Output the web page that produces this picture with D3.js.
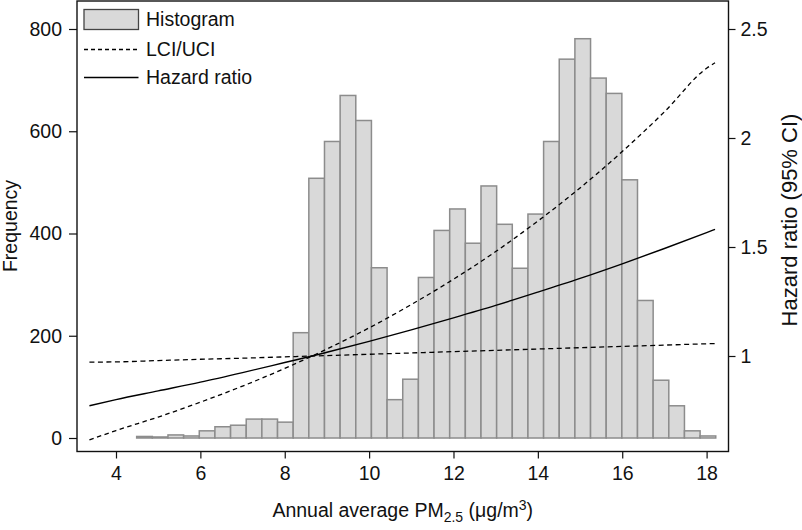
<!DOCTYPE html>
<html>
<head>
<meta charset="utf-8">
<script src="https://cdn.jsdelivr.net/npm/d3@7"></script>
<style>
  html, body { margin: 0; padding: 0; background: #fff; }
  svg { display: block; }
  text { font-family: "Liberation Sans", Arial, Helvetica, sans-serif; fill: #111; }
</style>
</head>
<body>
<svg id="chart" width="802" height="530"></svg>
<script>
// ---- Data ----
const binStart = 4.49;
const binWidth = 0.371;
const frequencies = [3, 2, 6, 4, 14, 22, 25, 37, 37, 31,
  206, 508, 580, 670, 621, 333, 75, 115, 314, 406,
  448, 381, 493, 418, 332, 438, 580, 741, 781, 704,
  674, 505, 269, 113, 63, 14, 4];

const curveX = [3.37, 4, 5, 6, 7, 8, 8.65, 9, 10, 11, 12, 13, 14, 15, 16, 17, 18, 18.2];
const hazardRatio = [0.772, 0.80, 0.84, 0.88, 0.924, 0.97, 1.0, 1.017, 1.067, 1.12, 1.175, 1.232, 1.293, 1.356, 1.423, 1.493, 1.566, 1.581];
const boundSteep = [0.615, 0.658, 0.720, 0.788, 0.862, 0.943, 1.0, 1.032, 1.129, 1.236, 1.352, 1.479, 1.619, 1.771, 1.938, 2.120, 2.320, 2.345];
const boundFlat = [0.972, 0.973, 0.979, 0.985, 0.990, 0.996, 1.0, 1.002, 1.008, 1.014, 1.020, 1.026, 1.032, 1.038, 1.044, 1.050, 1.056, 1.057];

const xTicks = [4, 6, 8, 10, 12, 14, 16, 18];
const freqTicks = [0, 200, 400, 600, 800];
const hrTicks = [1, 1.5, 2, 2.5];

const legendLabels = ["Histogram", "LCI/UCI", "Hazard ratio"];
const xTitle = "Annual average PM";
const leftTitle = "Frequency";
const rightTitle = "Hazard ratio (95% CI)";

// ---- Layout ----
const frame = { left: 77, right: 728.5, top: 1, bottom: 451.5 };
const svg = d3.select("#chart");
const FONT = 19.5;

const x = d3.scaleLinear().domain([4, 18]).range([116, 706.6]);
const yF = d3.scaleLinear().domain([0, 800]).range([438, 29]);
const yH = d3.scaleLinear().domain([1, 2.5]).range([356, 29]);

// ---- Histogram bars ----
const bins = frequencies.map((f, i) => ({ x0: binStart + i * binWidth, x1: binStart + (i + 1) * binWidth, f }));
svg.append("g").selectAll("rect").data(bins).join("rect")
  .attr("x", d => x(d.x0))
  .attr("width", d => x(d.x1) - x(d.x0))
  .attr("y", d => yF(d.f))
  .attr("height", d => yF(0) - yF(d.f))
  .attr("fill", "#d9d9d9")
  .attr("stroke", "#8c8c8c")
  .attr("stroke-width", 1.5);

// ---- Curves ----
const line = vals => d3.line()
  .x((d, i) => x(curveX[i]))
  .y(d => yH(d))
  .curve(d3.curveMonotoneX)(vals);

svg.append("path").attr("d", line(boundFlat))
  .attr("fill", "none").attr("stroke", "#000").attr("stroke-width", 1.3)
  .attr("stroke-dasharray", "5,3.5");
svg.append("path").attr("d", line(boundSteep))
  .attr("fill", "none").attr("stroke", "#000").attr("stroke-width", 1.3)
  .attr("stroke-dasharray", "4.5,3.5");
svg.append("path").attr("d", line(hazardRatio))
  .attr("fill", "none").attr("stroke", "#000").attr("stroke-width", 1.4);

// ---- Frame ----
svg.append("rect")
  .attr("x", frame.left).attr("y", frame.top)
  .attr("width", frame.right - frame.left).attr("height", frame.bottom - frame.top)
  .attr("fill", "none").attr("stroke", "#111").attr("stroke-width", 1.4);

// ---- Axes ----
function styleAxis(g) {
  g.select(".domain").remove();
  g.selectAll(".tick line").attr("stroke", "#111").attr("stroke-width", 1.2);
  g.selectAll(".tick text").style("font-size", FONT + "px").attr("fill", "#111");
}

svg.append("g").attr("transform", `translate(0,${frame.bottom})`)
  .call(d3.axisBottom(x).tickValues(xTicks).tickSize(7).tickPadding(8).tickFormat(d3.format("d")))
  .call(styleAxis);

svg.append("g").attr("transform", `translate(${frame.left},0)`)
  .call(d3.axisLeft(yF).tickValues(freqTicks).tickSize(8).tickPadding(7).tickFormat(d3.format("d")))
  .call(styleAxis);

svg.append("g").attr("transform", `translate(${frame.right},0)`)
  .call(d3.axisRight(yH).tickValues(hrTicks).tickSize(7).tickPadding(5).tickFormat(d => String(d)))
  .call(styleAxis);

// ---- Axis titles ----
const xt = svg.append("text")
  .attr("x", (frame.left + frame.right) / 2).attr("y", 517)
  .attr("text-anchor", "middle").style("font-size", FONT + "px");
xt.append("tspan").text(xTitle);
xt.append("tspan").text("2.5").attr("dy", 5).style("font-size", "14px");
xt.append("tspan").text(" (μg/m").attr("dy", -5);
xt.append("tspan").text("3").attr("dy", -7).style("font-size", "14px");
xt.append("tspan").text(")").attr("dy", 7);

svg.append("text")
  .attr("transform", `translate(17,226) rotate(-90)`)
  .attr("text-anchor", "middle").style("font-size", FONT + "px")
  .text(leftTitle);

svg.append("text")
  .attr("transform", `translate(797,220) rotate(-90)`)
  .attr("text-anchor", "middle").style("font-size", "22px")
  .text(rightTitle);

// ---- Legend ----
const lg = svg.append("g");
lg.append("rect").attr("x", 84).attr("y", 9.5).attr("width", 54.5).attr("height", 20)
  .attr("fill", "#d9d9d9").attr("stroke", "#444").attr("stroke-width", 1.3);
lg.append("line").attr("x1", 84).attr("x2", 138.5).attr("y1", 49.5).attr("y2", 49.5)
  .attr("stroke", "#000").attr("stroke-width", 1.3).attr("stroke-dasharray", "4,3");
lg.append("line").attr("x1", 84).attr("x2", 138.5).attr("y1", 77.5).attr("y2", 77.5)
  .attr("stroke", "#000").attr("stroke-width", 1.4);
const legendY = [19.5, 49.5, 77.5];
lg.selectAll("text.lab").data(legendLabels).join("text")
  .attr("class", "lab")
  .attr("x", 146).attr("y", (d, i) => legendY[i])
  .attr("dy", "0.35em")
  .style("font-size", FONT + "px")
  .text(d => d);
</script>
</body>
</html>
